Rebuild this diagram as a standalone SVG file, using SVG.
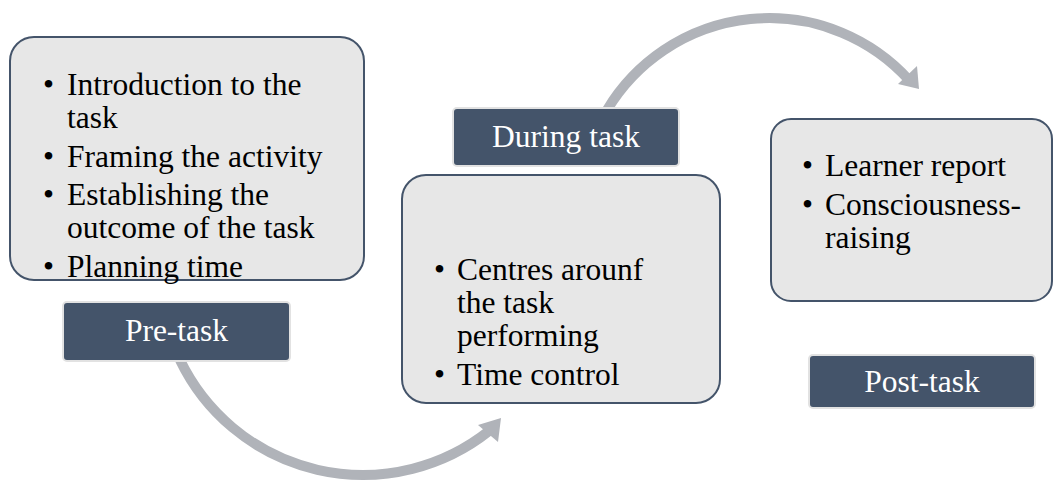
<svg xmlns="http://www.w3.org/2000/svg" width="1053" height="482" viewBox="0 0 1053 482">
  <style>
    .panel { fill: #e7e7e7; stroke: #44546a; stroke-width: 2; }
    .label { fill: #44546a; stroke: #e2e2e2; stroke-width: 2; }
    .body { font-size: 31.5px; fill: #000; }
    .title { font-size: 31.5px; fill: #fff; text-anchor: middle; }
    .flow { fill: none; stroke: #b0b3b9; stroke-width: 10; }
    .head { fill: #b0b3b9; }
  </style>
  <rect width="1053" height="482" fill="#fff"/>

  <!-- curved flow arrows between phases -->
  <g id="connectors">
    <path class="flow" d="M 180 360 A 203 203 0 0 0 489 431"/>
    <polygon class="head" points="478,425 501,418 498,442"/>
    <path class="flow" d="M 607 110 A 189 189 0 0 1 909 80"/>
    <polygon class="head" points="898,84 917,66 919,89"/>
  </g>

  <g font-family="Liberation Serif, Tinos, DejaVu Serif, serif">
  <!-- Pre-task phase -->
  <g id="pre-task-panel">
    <rect class="panel" x="10" y="37" width="354" height="243" rx="24"/>
    <text class="body" x="43" y="95">•</text>
    <text class="body" x="67" y="95">Introduction to the</text>
    <text class="body" x="67" y="128">task</text>
    <text class="body" x="43" y="167">•</text>
    <text class="body" x="67" y="167">Framing the activity</text>
    <text class="body" x="43" y="205">•</text>
    <text class="body" x="67" y="205">Establishing the</text>
    <text class="body" x="67" y="238">outcome of the task</text>
    <text class="body" x="43" y="277">•</text>
    <text class="body" x="67" y="277">Planning time</text>
  </g>
  <g id="pre-task-label">
    <rect class="label" x="63" y="302" width="227" height="59" rx="4"/>
    <text class="title" x="176.5" y="341">Pre-task</text>
  </g>

  <!-- During task phase -->
  <g id="during-task-label">
    <rect class="label" x="453" y="108" width="226" height="58" rx="4"/>
    <text class="title" x="566" y="147">During task</text>
  </g>
  <g id="during-task-panel">
    <rect class="panel" x="402" y="175" width="318" height="228" rx="24"/>
    <text class="body" x="434" y="280">•</text>
    <text class="body" x="457" y="280">Centres arounf</text>
    <text class="body" x="457" y="313">the task</text>
    <text class="body" x="457" y="346">performing</text>
    <text class="body" x="434" y="385">•</text>
    <text class="body" x="457" y="385">Time control</text>
  </g>

  <!-- Post-task phase -->
  <g id="post-task-panel">
    <rect class="panel" x="771" y="119" width="281" height="182" rx="20"/>
    <text class="body" x="802" y="176">•</text>
    <text class="body" x="825" y="176">Learner report</text>
    <text class="body" x="802" y="215">•</text>
    <text class="body" x="825" y="215">Consciousness-</text>
    <text class="body" x="825" y="248">raising</text>
  </g>
  <g id="post-task-label">
    <rect class="label" x="809" y="355" width="226" height="53" rx="4"/>
    <text class="title" x="922" y="392">Post-task</text>
  </g>
  </g>
</svg>
